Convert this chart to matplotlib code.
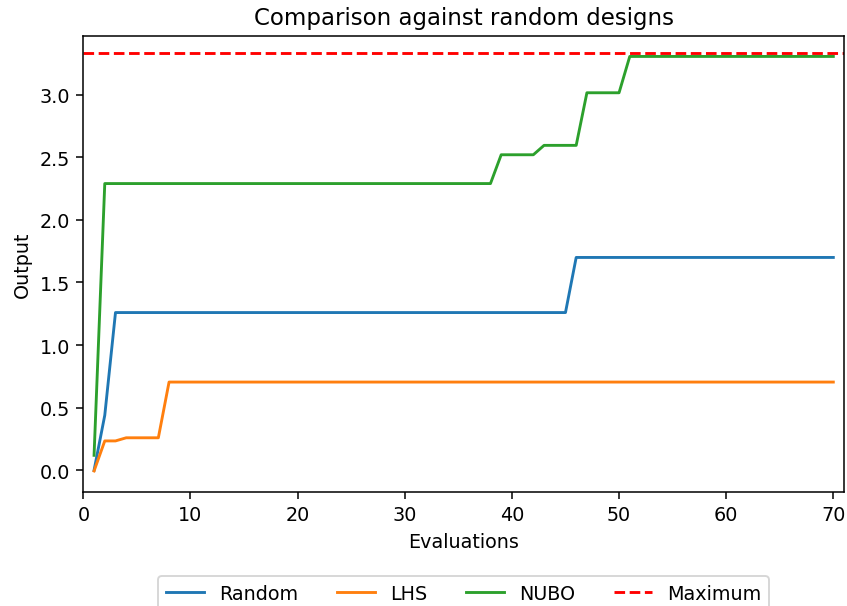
import matplotlib
matplotlib.use("Agg")
import matplotlib.pyplot as plt
import numpy as np

# best output found so far after each evaluation
evaluations = np.arange(1, 71)
random_best = [0.0, 0.44] + [1.26] * 43 + [1.70] * 25
lhs_best = [-0.005, 0.235, 0.235] + [0.26] * 4 + [0.705] * 63
nubo_best = [0.12] + [2.29] * 37 + [2.52] * 4 + [2.595] * 4 + [3.015] * 4 + [3.305] * 20
maximum = 3.33

dpi = 137.5
fig = plt.figure(figsize=(847 / dpi, 607 / dpi), dpi=dpi)
ax = fig.add_axes([0.0984, 0.1883, 0.8981, 0.7512])

ax.plot(evaluations, random_best, label="Random")
ax.plot(evaluations, lhs_best, label="LHS")
ax.plot(evaluations, nubo_best, label="NUBO")
ax.axhline(maximum, color="red", linestyle="--", label="Maximum")

ax.set_xlim(0, 71)
ax.set_title("Comparison against random designs")
ax.set_xlabel("Evaluations")
ax.set_ylabel("Output")
ax.legend(loc="upper center", bbox_to_anchor=(0.5, -0.165), ncol=4)

fig.savefig("out.png", dpi=dpi)
